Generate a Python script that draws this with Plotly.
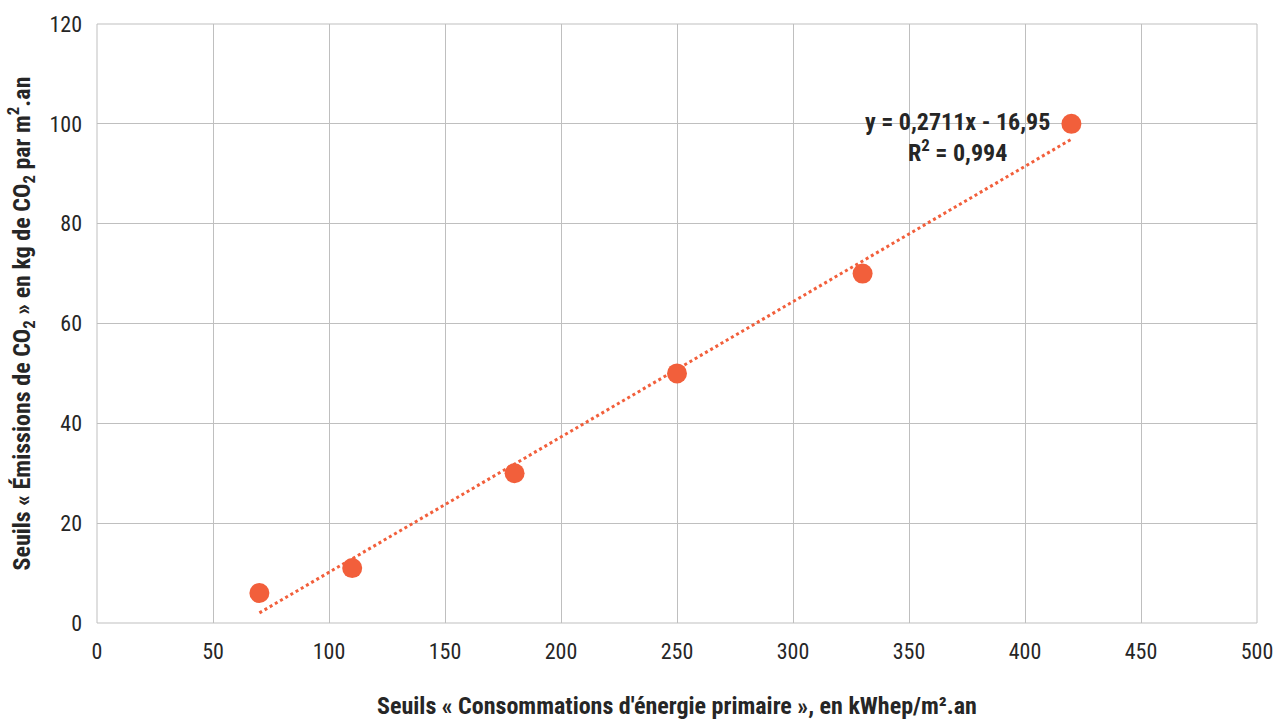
import numpy as np
import plotly.graph_objects as go

energie = [70, 110, 180, 250, 330, 420]
emissions = [6, 11, 30, 50, 70, 100]
x_ticks = [0, 50, 100, 150, 200, 250, 300, 350, 400, 450, 500]
y_ticks = [0, 20, 40, 60, 80, 100, 120]

color = "#F25F3B"
font_family = "Roboto Condensed, Liberation Sans Narrow, Roboto, sans-serif"

slope, intercept = np.polyfit(energie, emissions, 1)
pred = np.polyval([slope, intercept], energie)
r2 = 1 - np.sum((np.array(emissions) - pred) ** 2) / np.sum((np.array(emissions) - np.mean(emissions)) ** 2)
trend_x = [min(energie), max(energie)]
trend_y = list(np.polyval([slope, intercept], trend_x))

fig = go.Figure()
fig.add_trace(go.Scatter(x=trend_x, y=trend_y, mode="lines",
                         line=dict(color=color, width=3, dash="dot"),
                         hoverinfo="skip", showlegend=False))
fig.add_trace(go.Scatter(x=energie, y=emissions, mode="markers",
                         marker=dict(color=color, size=20), showlegend=False))

eq_text = "<b>y = {:.4f}x - {:.2f}<br>R<sup>2</sup> = {:.3f}</b>".format(slope, -intercept, r2).replace(".", ",")
fig.add_annotation(x=371, y=97.2, xref="x", yref="y", text=eq_text, showarrow=False,
                   font=dict(size=24, color="#262626", family=font_family), align="center")

axis_common = dict(showgrid=True, gridcolor="#BFBFBF", gridwidth=1, zeroline=False,
                   showline=False, automargin=False,
                   tickfont=dict(size=22, color="#262626", family=font_family))

fig.update_xaxes(range=[0, 500], tickvals=x_ticks, ticktext=[str(v) for v in x_ticks],
                 ticklabelstandoff=13,
                 title=dict(text="<b>Seuils « Consommations d'énergie primaire », en kWhep/m².an</b>",
                            font=dict(size=24, color="#262626", family=font_family), standoff=41),
                 **axis_common)
fig.update_yaxes(range=[0, 120], tickvals=y_ticks, ticktext=[str(v) for v in y_ticks],
                 ticklabelstandoff=14,
                 title=dict(text="<b>Seuils « Émissions de CO<sub>2</sub> » en kg de CO<sub>2</sub> par m<sup>2</sup>.an</b>",
                            font=dict(size=24, color="#262626", family=font_family), standoff=12),
                 **axis_common)

fig.update_layout(width=1276, height=720, margin=dict(l=97, r=19, t=24, b=97),
                  plot_bgcolor="white", paper_bgcolor="white",
                  shapes=[dict(type="rect", xref="paper", yref="paper", x0=0, y0=0, x1=1, y1=1,
                               line=dict(color="#BFBFBF", width=1))])

fig.write_html("out.html", post_script="document.body.style.margin='0';",
               config={"displayModeBar": False})
